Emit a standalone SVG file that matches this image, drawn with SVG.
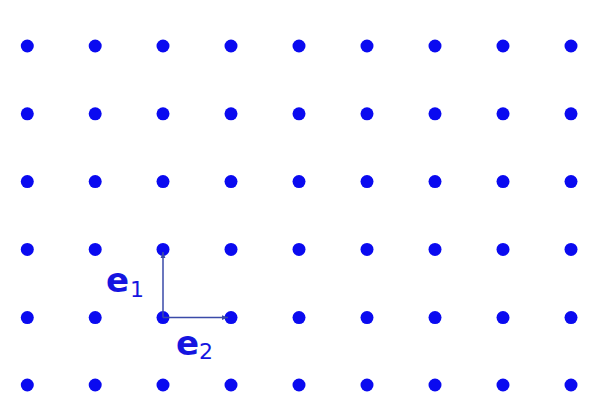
<svg xmlns="http://www.w3.org/2000/svg" width="603" height="402" viewBox="0 0 603 402">
<defs>
<style>
.dot{fill:#0a0af0}
.vec{stroke:#3a4aa8;stroke-width:1.5;fill:none}
.lbl{font-family:"DejaVu Sans",sans-serif;font-weight:bold;fill:#1515e0}
.sub{font-family:"DejaVu Sans",sans-serif;fill:#1515e0}
</style>
<marker id="ah" viewBox="0 0 10 10" refX="10" refY="5" markerWidth="6" markerHeight="6" orient="auto" markerUnits="userSpaceOnUse">
<path d="M0,1 L10,5 L0,9 Z" fill="#3a4aa8"/>
</marker>
<circle id="d" r="6.5" class="dot"/>
</defs>
<rect width="603" height="402" fill="#ffffff"/>
<g id="lattice">
<g transform="translate(0,46)">
<use href="#d" x="27.3"/><use href="#d" x="95.2"/><use href="#d" x="163"/><use href="#d" x="231"/><use href="#d" x="299"/><use href="#d" x="367"/><use href="#d" x="435"/><use href="#d" x="503"/><use href="#d" x="571"/>
</g>
<g transform="translate(0,113.8)">
<use href="#d" x="27.3"/><use href="#d" x="95.2"/><use href="#d" x="163"/><use href="#d" x="231"/><use href="#d" x="299"/><use href="#d" x="367"/><use href="#d" x="435"/><use href="#d" x="503"/><use href="#d" x="571"/>
</g>
<g transform="translate(0,181.6)">
<use href="#d" x="27.3"/><use href="#d" x="95.2"/><use href="#d" x="163"/><use href="#d" x="231"/><use href="#d" x="299"/><use href="#d" x="367"/><use href="#d" x="435"/><use href="#d" x="503"/><use href="#d" x="571"/>
</g>
<g transform="translate(0,249.4)">
<use href="#d" x="27.3"/><use href="#d" x="95.2"/><use href="#d" x="163"/><use href="#d" x="231"/><use href="#d" x="299"/><use href="#d" x="367"/><use href="#d" x="435"/><use href="#d" x="503"/><use href="#d" x="571"/>
</g>
<g transform="translate(0,317.6)">
<use href="#d" x="27.3"/><use href="#d" x="95.2"/><use href="#d" x="163"/><use href="#d" x="231"/><use href="#d" x="299"/><use href="#d" x="367"/><use href="#d" x="435"/><use href="#d" x="503"/><use href="#d" x="571"/>
</g>
<g transform="translate(0,385)">
<use href="#d" x="27.3"/><use href="#d" x="95.2"/><use href="#d" x="163"/><use href="#d" x="231"/><use href="#d" x="299"/><use href="#d" x="367"/><use href="#d" x="435"/><use href="#d" x="503"/><use href="#d" x="571"/>
</g>
</g>
<g id="connectors">
<line class="vec" x1="163" y1="317.6" x2="163" y2="252" marker-end="url(#ah)"/>
<line class="vec" x1="163" y1="317.6" x2="228" y2="317.6" marker-end="url(#ah)"/>
</g>
<g id="label-e1">
<text class="lbl" x="106" y="292" font-size="34">e</text><text class="sub" x="130" y="297" font-size="22">1</text>
</g>
<g id="label-e2">
<text class="lbl" x="176" y="355" font-size="34">e</text><text class="sub" x="199" y="359" font-size="22">2</text>
</g>
</svg>
